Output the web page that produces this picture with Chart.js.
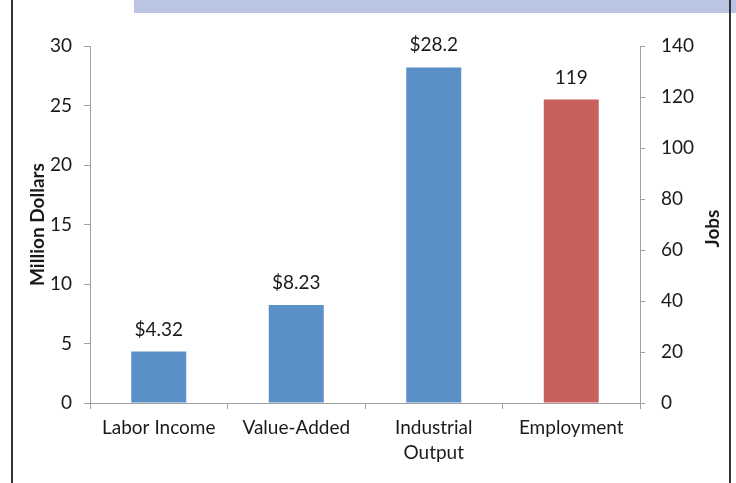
<!DOCTYPE html>
<html>
<head>
<meta charset="utf-8">
<script src="https://cdn.jsdelivr.net/npm/chart.js@4"></script>
<style>
  html, body { margin: 0; padding: 0; background: #fff; }
  #wrap { position: relative; width: 736px; height: 483px; }
  #band { position: absolute; left: 134px; top: 0; width: 602px; height: 13px; background: #B9C5E3; }
  .edge { position: absolute; top: 0; width: 2px; height: 483px; background: #333; }
</style>
</head>
<body>
<div id="wrap">
  <canvas id="myChart" width="736" height="483"></canvas>
  <div id="band"></div>
  <div class="edge" style="left:11px"></div>
  <div class="edge" style="left:729px"></div>
</div>
<script>
const categories = ['Labor Income', 'Value-Added', ['Industrial', 'Output'], 'Employment'];
const dollars = [4.32, 8.23, 28.2, null];
const jobs = [null, null, null, 119];
const dollarLabels = ['$4.32', '$8.23', '$28.2', null];
const jobLabels = [null, null, null, '119'];

const FONT = 'Lato, "Liberation Sans", sans-serif';
const TEXT = '#1a1a1a';
const AXIS = '#A0A0A0';

// draw value labels above the bars and the right axis title
const barText = {
  id: 'barText',
  afterDatasetsDraw(chart) {
    const ctx = chart.ctx;
    ctx.save();
    ctx.font = '19px ' + FONT;
    ctx.fillStyle = TEXT;
    ctx.textAlign = 'center';
    ctx.textBaseline = 'alphabetic';
    [dollarLabels, jobLabels].forEach((labels, di) => {
      chart.getDatasetMeta(di).data.forEach((bar, i) => {
        if (labels[i]) ctx.fillText(labels[i], bar.x, bar.y - 16);
      });
    });
    const area = chart.chartArea;
    ctx.translate(713, (area.top + area.bottom) / 2 + 4);
    ctx.rotate(-Math.PI / 2);
    ctx.font = 'bold 19px ' + FONT;
    ctx.textBaseline = 'middle';
    ctx.fillText('Jobs', 0, 0);
    ctx.restore();
  }
};

const ctx = document.querySelector('#myChart').getContext('2d');

new Chart(ctx, {
  type: 'bar',
  data: {
    labels: categories,
    datasets: [{
      data: dollars,
      backgroundColor: '#5B8FC7',
      yAxisID: 'y',
      grouped: false,
      barPercentage: 0.4,
      categoryPercentage: 1.0
    }, {
      data: jobs,
      backgroundColor: '#C8615C',
      yAxisID: 'y1',
      grouped: false,
      barPercentage: 0.4,
      categoryPercentage: 1.0
    }]
  },
  options: {
    responsive: false,
    animation: false,
    layout: { padding: { left: 14, right: 6, top: 46, bottom: 10 } },
    plugins: { legend: { display: false }, tooltip: { enabled: false } },
    scales: {
      x: {
        grid: { display: true, drawOnChartArea: false, color: AXIS, tickLength: 6, offset: true },
        border: { color: AXIS },
        ticks: { color: TEXT, font: { family: FONT, size: 19, lineHeight: 1.3 }, padding: 7, maxRotation: 0, autoSkip: false },
        afterFit(scale) { scale.height = 70; }
      },
      y: {
        position: 'left',
        min: 0, max: 30,
        ticks: { stepSize: 5, color: TEXT, font: { family: FONT, size: 19 }, padding: 12 },
        grid: { display: true, drawOnChartArea: false, color: AXIS, tickLength: 6 },
        border: { color: AXIS },
        title: { display: true, text: 'Million Dollars', color: TEXT, font: { family: FONT, size: 19, weight: 'bold' }, padding: { top: 12, bottom: 0 } },
        afterFit(scale) { scale.width = 76; }
      },
      y1: {
        position: 'right',
        min: 0, max: 140,
        ticks: { stepSize: 20, color: TEXT, font: { family: FONT, size: 19 }, padding: 16 },
        grid: { display: true, drawOnChartArea: false, color: AXIS, tickLength: 5 },
        border: { color: AXIS },
        afterFit(scale) { scale.width = 90; }
      }
    }
  },
  plugins: [barText]
});
</script>
</body>
</html>
